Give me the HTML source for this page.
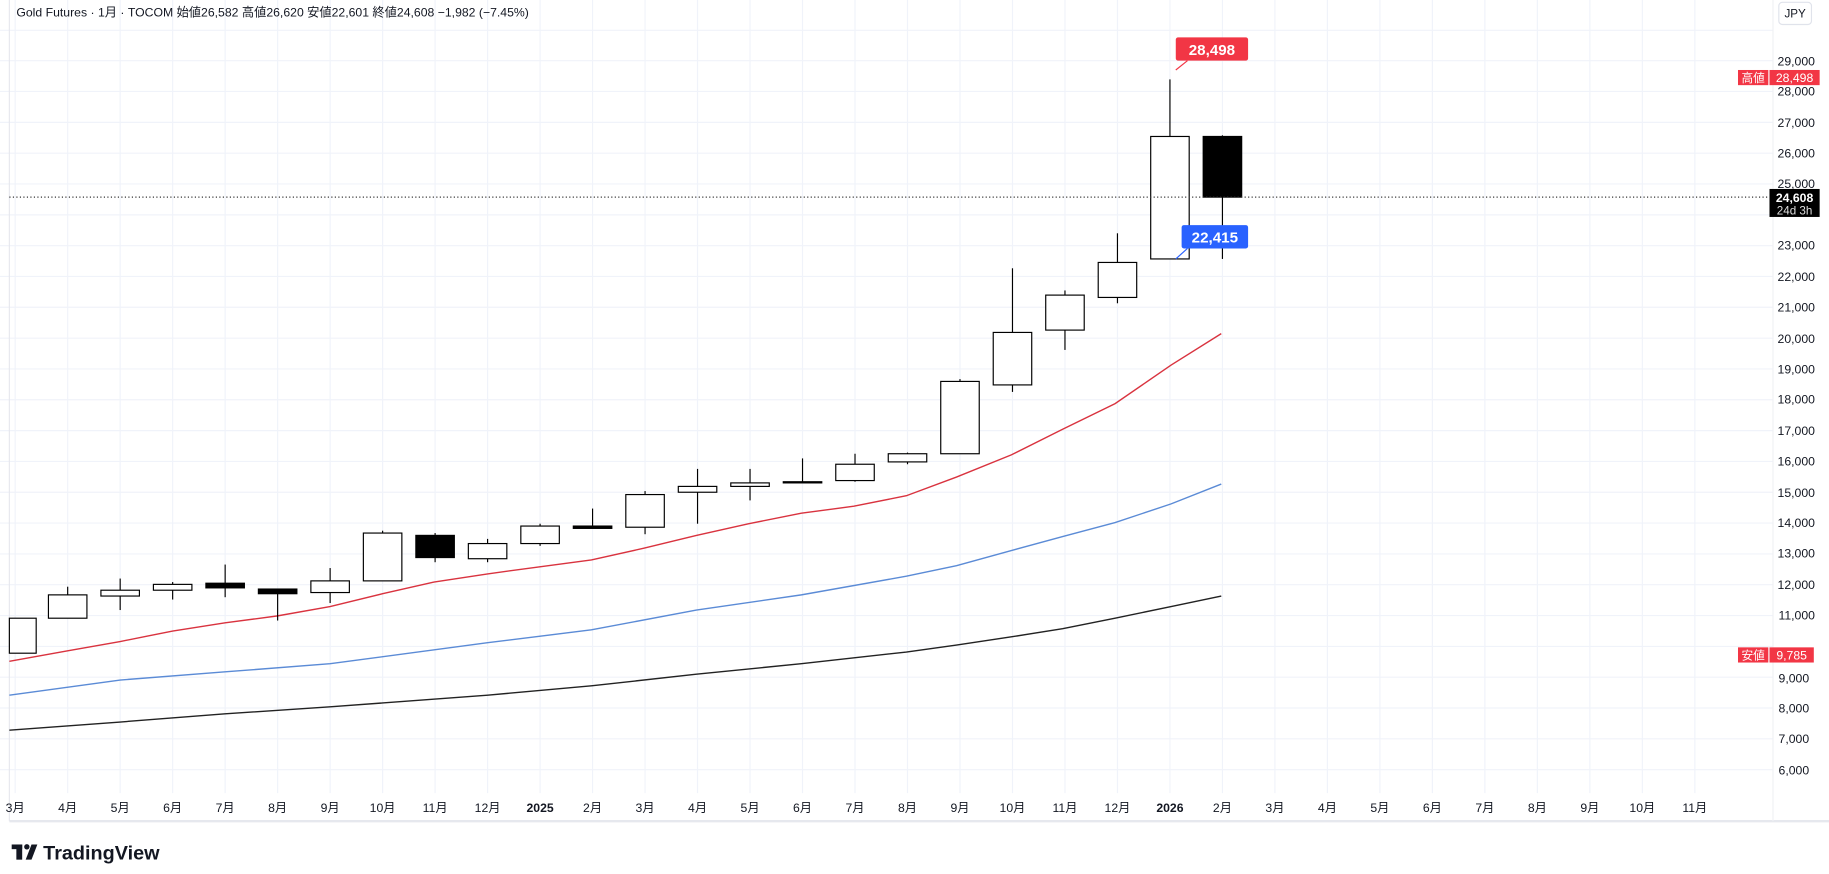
<!DOCTYPE html>
<html><head><meta charset="utf-8"><style>
html,body{margin:0;padding:0;background:#fff;overflow:hidden}
svg{display:block;font-family:"Liberation Sans","Noto Sans CJK JP",sans-serif}
</style></head><body>
<svg width="1829" height="874" viewBox="0 0 1568 749.3" xmlns="http://www.w3.org/2000/svg">
<rect width="1568" height="749.3" fill="#fff"/>
<g id="grid" stroke="#f0f3fa" stroke-width="1">
<line x1="0" y1="26" x2="1520" y2="26"/><line x1="0" y1="52" x2="1520" y2="52"/><line x1="0" y1="78.4" x2="1520" y2="78.4"/><line x1="0" y1="104.9" x2="1520" y2="104.9"/><line x1="0" y1="131.3" x2="1520" y2="131.3"/><line x1="0" y1="157.7" x2="1520" y2="157.7"/><line x1="0" y1="184.2" x2="1520" y2="184.2"/><line x1="0" y1="210.6" x2="1520" y2="210.6"/><line x1="0" y1="237" x2="1520" y2="237"/><line x1="0" y1="263.4" x2="1520" y2="263.4"/><line x1="0" y1="289.9" x2="1520" y2="289.9"/><line x1="0" y1="316.3" x2="1520" y2="316.3"/><line x1="0" y1="342.7" x2="1520" y2="342.7"/><line x1="0" y1="369.2" x2="1520" y2="369.2"/><line x1="0" y1="395.6" x2="1520" y2="395.6"/><line x1="0" y1="422" x2="1520" y2="422"/><line x1="0" y1="448.4" x2="1520" y2="448.4"/><line x1="0" y1="474.9" x2="1520" y2="474.9"/><line x1="0" y1="501.3" x2="1520" y2="501.3"/><line x1="0" y1="527.7" x2="1520" y2="527.7"/><line x1="0" y1="554.2" x2="1520" y2="554.2"/><line x1="0" y1="580.6" x2="1520" y2="580.6"/><line x1="0" y1="607" x2="1520" y2="607"/><line x1="0" y1="633.4" x2="1520" y2="633.4"/><line x1="0" y1="659.9" x2="1520" y2="659.9"/>
<line x1="13" y1="0" x2="13" y2="680"/><line x1="58" y1="0" x2="58" y2="680"/><line x1="103" y1="0" x2="103" y2="680"/><line x1="148" y1="0" x2="148" y2="680"/><line x1="193" y1="0" x2="193" y2="680"/><line x1="238" y1="0" x2="238" y2="680"/><line x1="283" y1="0" x2="283" y2="680"/><line x1="328" y1="0" x2="328" y2="680"/><line x1="373" y1="0" x2="373" y2="680"/><line x1="418" y1="0" x2="418" y2="680"/><line x1="463" y1="0" x2="463" y2="680"/><line x1="508" y1="0" x2="508" y2="680"/><line x1="553" y1="0" x2="553" y2="680"/><line x1="598" y1="0" x2="598" y2="680"/><line x1="643" y1="0" x2="643" y2="680"/><line x1="688" y1="0" x2="688" y2="680"/><line x1="733" y1="0" x2="733" y2="680"/><line x1="778" y1="0" x2="778" y2="680"/><line x1="823" y1="0" x2="823" y2="680"/><line x1="868" y1="0" x2="868" y2="680"/><line x1="913" y1="0" x2="913" y2="680"/><line x1="958" y1="0" x2="958" y2="680"/><line x1="1003" y1="0" x2="1003" y2="680"/><line x1="1048" y1="0" x2="1048" y2="680"/><line x1="1093" y1="0" x2="1093" y2="680"/><line x1="1138" y1="0" x2="1138" y2="680"/><line x1="1183" y1="0" x2="1183" y2="680"/><line x1="1228" y1="0" x2="1228" y2="680"/><line x1="1273" y1="0" x2="1273" y2="680"/><line x1="1318" y1="0" x2="1318" y2="680"/><line x1="1363" y1="0" x2="1363" y2="680"/><line x1="1408" y1="0" x2="1408" y2="680"/><line x1="1453" y1="0" x2="1453" y2="680"/>
</g>
<line x1="8" y1="0" x2="8" y2="704" stroke="#e6e8ee"/>
<line x1="8" y1="704" x2="1568" y2="704" stroke="#e6e8ee" stroke-width="2"/>
<line x1="1520" y1="0" x2="1520" y2="704" stroke="#f0f1f4"/>
<!-- MAs -->
<polyline fill="none" stroke="#222" stroke-width="1.2" points="8,626 103,619 193,612 283,606 418,596 507,588 597,578 687,569 777,559 820,553 867,546 911,539 956,530 1004,520 1047,511"/>
<polyline fill="none" stroke="#5b8bd6" stroke-width="1.2" points="8,596 103,583 193,576 283,569 418,551 507,540 597,523 687,510 777,494 820,485 867,472 911,460 956,448 1004,432 1047,415"/>
<polyline fill="none" stroke="#d9333f" stroke-width="1.2" points="8,567 58,558 103,550 148,541 193,534 238,528 283,520 328,509 372,499 418,492 462,486 507,480 552,470 597,459 642,449 687,440 732,434 777,425 820,409 867,390 911,368 956,346 1004,313 1047,286"/>
<!-- candles -->
<g stroke="#000" stroke-width="1">
<rect x="8" y="530" width="23" height="30" fill="#fff"/>
<line x1="58" y1="503" x2="58" y2="530"/><rect x="41.5" y="510" width="33" height="20" fill="#fff"/>
<line x1="103" y1="496" x2="103" y2="523"/><rect x="86.5" y="506" width="33" height="5" fill="#fff"/>
<line x1="148" y1="499" x2="148" y2="514"/><rect x="131.5" y="501" width="33" height="5" fill="#fff"/>
<line x1="193" y1="484" x2="193" y2="512"/><rect x="176.5" y="500" width="33" height="4" fill="#000"/>
<line x1="238" y1="505" x2="238" y2="532"/><rect x="221.5" y="505" width="33" height="4" fill="#000"/>
<line x1="283" y1="487" x2="283" y2="517"/><rect x="266.5" y="498" width="33" height="10" fill="#fff"/>
<line x1="328" y1="455" x2="328" y2="498"/><rect x="311.5" y="457" width="33" height="41" fill="#fff"/>
<line x1="373" y1="457" x2="373" y2="482"/><rect x="356.5" y="459" width="33" height="19" fill="#000"/>
<line x1="418" y1="462" x2="418" y2="482"/><rect x="401.5" y="466" width="33" height="13" fill="#fff"/>
<line x1="463" y1="449" x2="463" y2="468"/><rect x="446.5" y="451" width="33" height="15" fill="#fff"/>
<line x1="508" y1="436" x2="508" y2="453"/><rect x="491.5" y="451" width="33" height="2" fill="#000"/>
<line x1="553" y1="421" x2="553" y2="458"/><rect x="536.5" y="424" width="33" height="28" fill="#fff"/>
<line x1="598" y1="402" x2="598" y2="449"/><rect x="581.5" y="417" width="33" height="5" fill="#fff"/>
<line x1="643" y1="402" x2="643" y2="429"/><rect x="626.5" y="414" width="33" height="3" fill="#fff"/>
<line x1="688" y1="393" x2="688" y2="414"/><rect x="671.5" y="413" width="33" height="1" fill="#fff"/>
<line x1="733" y1="389" x2="733" y2="413"/><rect x="716.5" y="398" width="33" height="14" fill="#fff"/>
<line x1="778" y1="388" x2="778" y2="398"/><rect x="761.5" y="389" width="33" height="7" fill="#fff"/>
<line x1="823" y1="325" x2="823" y2="389"/><rect x="806.5" y="327" width="33" height="62" fill="#fff"/>
<line x1="868" y1="230" x2="868" y2="336"/><rect x="851.5" y="285" width="33" height="45" fill="#fff"/>
<line x1="913" y1="249" x2="913" y2="300"/><rect x="896.5" y="253" width="33" height="30" fill="#fff"/>
<line x1="958" y1="200" x2="958" y2="260"/><rect x="941.5" y="225" width="33" height="30" fill="#fff"/>
<line x1="1003" y1="68" x2="1003" y2="222"/><rect x="986.5" y="117" width="33" height="105" fill="#fff"/>
<line x1="1048" y1="116" x2="1048" y2="222"/><rect x="1031.5" y="117" width="33" height="52" fill="#000"/>
</g>
<line x1="8" y1="169" x2="1517" y2="169" stroke="#333" stroke-dasharray="1,2"/>
<!-- callouts -->
<line x1="1008" y1="60" x2="1018" y2="52" stroke="#f23645"/>
<rect x="1008" y="32" width="62" height="20" rx="2" fill="#f23645"/>
<text x="1039" y="47" fill="#fff" font-size="13" font-weight="bold" text-anchor="middle">28,498</text>
<line x1="1008" y1="222" x2="1018" y2="213" stroke="#2962ff"/>
<rect x="1013" y="193" width="57" height="20" rx="2" fill="#2962ff"/>
<text x="1041.5" y="208" fill="#fff" font-size="13" font-weight="bold" text-anchor="middle">22,415</text>
<!-- header -->
<text x="14" y="14" font-size="10.5" fill="#131722">Gold Futures · 1月 · TOCOM  始値26,582  高値26,620  安値22,601  終値24,608  −1,982 (−7.45%)</text>
<rect x="1525" y="2" width="28" height="19" rx="3" fill="#fff" stroke="#e0e3eb"/>
<text x="1539" y="15" font-size="10" fill="#131722" text-anchor="middle">JPY</text>
<!-- y labels -->
<g font-size="10.5" fill="#131722" text-anchor="end">
<text x="1556" y="56">29,000</text><text x="1556" y="82">28,000</text><text x="1556" y="109">27,000</text><text x="1556" y="135">26,000</text><text x="1556" y="161">25,000</text><text x="1556" y="214">23,000</text><text x="1556" y="241">22,000</text><text x="1556" y="267">21,000</text><text x="1556" y="294">20,000</text><text x="1556" y="320">19,000</text><text x="1556" y="346">18,000</text><text x="1556" y="373">17,000</text><text x="1556" y="399">16,000</text><text x="1556" y="426">15,000</text><text x="1556" y="452">14,000</text><text x="1556" y="478">13,000</text><text x="1556" y="505">12,000</text><text x="1556" y="531">11,000</text><text x="1551" y="585">9,000</text><text x="1551" y="611">8,000</text><text x="1551" y="637">7,000</text><text x="1551" y="664">6,000</text>
</g>
<rect x="1490" y="60" width="26" height="13" fill="#f23645"/><text x="1503" y="70.5" font-size="10" fill="#fff" text-anchor="middle">高値</text>
<rect x="1517" y="60" width="43" height="13" fill="#f23645"/><text x="1538.5" y="70.5" font-size="10.5" fill="#fff" text-anchor="middle">28,498</text>
<rect x="1490" y="555" width="26" height="13" fill="#f23645"/><text x="1503" y="565.5" font-size="10" fill="#fff" text-anchor="middle">安値</text>
<rect x="1517" y="555" width="38" height="13" fill="#f23645"/><text x="1536" y="565.5" font-size="10.5" fill="#fff" text-anchor="middle">9,785</text>
<rect x="1517" y="162" width="43" height="24" fill="#000"/>
<text x="1538.5" y="173" font-size="10.5" fill="#fff" text-anchor="middle" font-weight="bold">24,608</text>
<text x="1538.5" y="184" font-size="10" fill="#ddd" text-anchor="middle">24d 3h</text>
<!-- x labels -->
<g font-size="10.5" fill="#131722" text-anchor="middle">
<text x="13" y="696">3月</text><text x="58" y="696">4月</text><text x="103" y="696">5月</text><text x="148" y="696">6月</text><text x="193" y="696">7月</text><text x="238" y="696">8月</text><text x="283" y="696">9月</text><text x="328" y="696">10月</text><text x="373" y="696">11月</text><text x="418" y="696">12月</text><text x="463" y="696" font-weight="bold">2025</text><text x="508" y="696">2月</text><text x="553" y="696">3月</text><text x="598" y="696">4月</text><text x="643" y="696">5月</text><text x="688" y="696">6月</text><text x="733" y="696">7月</text><text x="778" y="696">8月</text><text x="823" y="696">9月</text><text x="868" y="696">10月</text><text x="913" y="696">11月</text><text x="958" y="696">12月</text><text x="1003" y="696" font-weight="bold">2026</text><text x="1048" y="696">2月</text><text x="1093" y="696">3月</text><text x="1138" y="696">4月</text><text x="1183" y="696">5月</text><text x="1228" y="696">6月</text><text x="1273" y="696">7月</text><text x="1318" y="696">8月</text><text x="1363" y="696">9月</text><text x="1408" y="696">10月</text><text x="1453" y="696">11月</text>
</g>
<!-- logo -->
<g fill="#131722">
<rect x="10" y="724" width="9" height="4"/><rect x="14" y="724" width="5" height="13"/>
<circle cx="23" cy="726" r="2.3"/><path d="M27 724 L32 724 L27 737 L22 737 Z"/>
<text x="37" y="737" font-size="17" font-weight="bold">TradingView</text>
</g>
</svg>
</body></html>
